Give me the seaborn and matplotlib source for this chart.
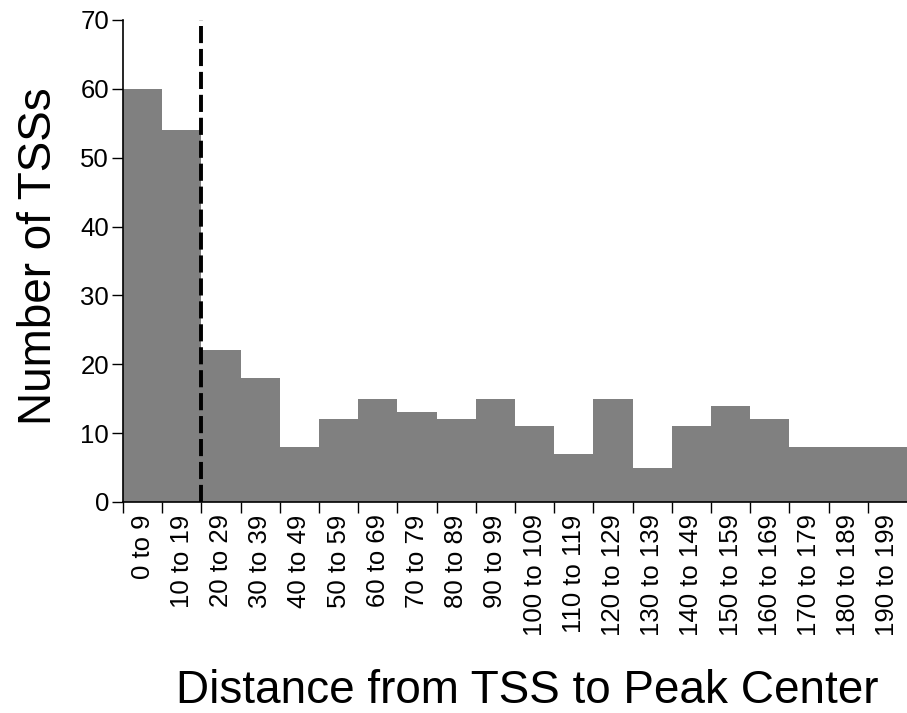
import numpy as np
import pandas as pd
import seaborn as sns
from matplotlib import pyplot as plt

bins = ["0 to 9", "10 to 19", "20 to 29", "30 to 39", "40 to 49", "50 to 59",
        "60 to 69", "70 to 79", "80 to 89", "90 to 99", "100 to 109", "110 to 119",
        "120 to 129", "130 to 139", "140 to 149", "150 to 159", "160 to 169",
        "170 to 179", "180 to 189", "190 to 199"]
counts = [60, 54, 22, 18, 8, 12, 15, 13, 12, 15, 11, 7, 15, 5, 11, 14, 12, 8, 8, 8]

df = pd.DataFrame({"bin": bins, "count": counts})

sns.set_style("ticks")
plt.rcParams['font.family'] = ['Liberation Sans', 'DejaVu Sans']
plt.rcParams['text.color'] = 'black'
plt.rcParams['axes.labelcolor'] = 'black'
plt.rcParams['xtick.color'] = 'black'
plt.rcParams['ytick.color'] = 'black'

fig = plt.figure(figsize=(9.07, 7.13), dpi=100)
ax = fig.add_axes([0.1356, 0.296, 0.8644, 0.676])

sns.barplot(data=df, x="bin", y="count", color="#808080", saturation=1,
            width=1.0, edgecolor="none", linewidth=0, ax=ax)

# cutoff line between 10-19 and 20-29
ax.plot([1.5, 1.5], [0, 70], color="black", linestyle=(0, (4.4, 1.5)), linewidth=2.8)

ax.set_xlim(-0.5, len(bins) - 0.5)
ax.set_ylim(0, 70)
ax.set_yticks(np.arange(0, 71, 10))
ax.tick_params(axis="y", labelsize=18.5, length=8, width=1, direction="out", pad=2)

# ticks at bin edges, labels at bin centres
ax.set_xticks(np.arange(len(bins)))
ax.set_xticklabels(bins, rotation=90, fontsize=18.5)
ax.tick_params(axis="x", which="major", length=0, pad=9)
ax.set_xticks(np.arange(len(bins)) - 0.5, minor=True)
ax.tick_params(axis="x", which="minor", length=8, width=1, direction="out")

ax.set_xlabel("Distance from TSS to Peak Center", fontsize=33, va="baseline")
ax.xaxis.set_label_coords(0.515, -0.417)
ax.set_ylabel("Number of TSSs", fontsize=33, va="center")
ax.yaxis.set_label_coords(-0.107, 0.51)

for s in ["top", "right"]:
    ax.spines[s].set_visible(False)
for s in ["left", "bottom"]:
    ax.spines[s].set_linewidth(1.2)
    ax.spines[s].set_color("black")

fig.savefig("out.png", dpi=100)
